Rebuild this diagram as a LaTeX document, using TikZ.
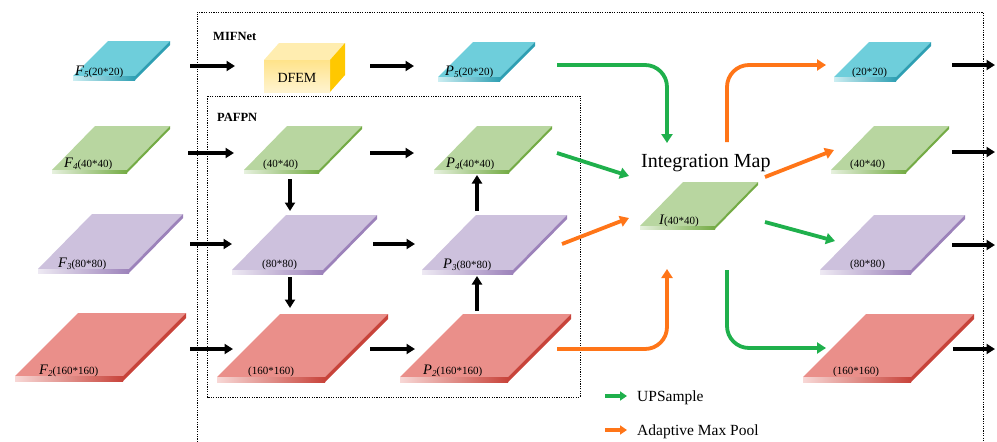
\documentclass[tikz,border=0pt]{standalone}
\usepackage{fontspec}
\setmainfont{Liberation Serif}
\usetikzlibrary{arrows.meta}

\definecolor{bluetop}{HTML}{6ECEDB}
\definecolor{blueside}{HTML}{2E9FB3}
\definecolor{greentop}{HTML}{B8D6A0}
\definecolor{greenside}{HTML}{74AB45}
\definecolor{purpletop}{HTML}{CDC1DD}
\definecolor{purpleside}{HTML}{9C82BA}
\definecolor{redtop}{HTML}{EA8F8A}
\definecolor{redside}{HTML}{C8433A}
\definecolor{upgreen}{HTML}{1FB04C}
\definecolor{poolorange}{HTML}{FF7518}
\definecolor{cubefront}{HTML}{FFE38A}
\definecolor{cubelight}{HTML}{FFF4D0}
\definecolor{cubetop}{HTML}{FFEDB0}
\definecolor{cubeside}{HTML}{FFC800}

\tikzset{
  flow/.style={line width=3.5pt, -{Triangle[length=8.5pt,width=10pt]}},
  upsample/.style={draw=upgreen, line width=3.8pt, rounded corners=22pt,
    -{Triangle[length=9pt,width=11pt]}},
  pool/.style={draw=poolorange, line width=3.8pt, rounded corners=22pt,
    -{Triangle[length=9pt,width=11pt]}},
  legendarrow/.style={line width=3.2pt, -{Triangle[length=7pt,width=9pt]}},
  frame/.style={line width=0.8pt, dash pattern=on 1.2pt off 1.2pt},
  dims/.style={font=\fontsize{11}{11}\selectfont, inner sep=0pt, anchor=base west},
  title/.style={font=\fontsize{12.5}{13}\selectfont\bfseries, inner sep=0pt, anchor=base west},
  legendtext/.style={font=\fontsize{15.5}{16}\selectfont, inner sep=0pt, anchor=base west},
}

% feature-map slab: name, x0, y0 (front-left corner of the top face), width, height, skew, thickness, top colour, edge colour
\newcommand{\slab}[9]{%
  \fill[#8] (#2,#3) -- ++(#4,0) -- ++(#6,-#5) -- ++(-#4,0) -- cycle;
  \shade[left color=#8!35!white, right color=#9] (#2,#3) rectangle ++(#4,#7);
  \fill[#9] ({#2+#4},#3) -- ++(#6,-#5) -- ++(0,#7) -- ++(-#6,#5) -- cycle;
  \coordinate (#1) at ({#2+(#4+#6)/2},{#3-#5/2});
}
\newcommand{\fmap}[2]{{\fontsize{14.5}{14}\selectfont\itshape #1}\raisebox{-2.5pt}{\fontsize{9}{9}\selectfont\itshape #2}}

\begin{document}
\begin{tikzpicture}[x=1pt,y=-1pt]
\useasboundingbox (0,0) rectangle (997,442);

% outer and inner network frames
\draw[frame] (197,442) -- (197,12) -- (983,12) -- (983,442);
\draw[frame] (207,96) rectangle (580,397);
\node[title] (mifnet) at (213,40) {MIFNet};
\node[title] (pafpn) at (217,121) {PAFPN};

% slabs: 20x20 level
\slab{F5}{73}{76}{62}{35}{35}{4}{bluetop}{blueside}
\slab{P5}{438}{77}{62}{35}{35}{4}{bluetop}{blueside}
\slab{R5}{834}{77}{62}{35}{35}{4}{bluetop}{blueside}
% 40x40 level
\slab{F4}{52}{170}{75}{44}{43}{3}{greentop}{greenside}
\slab{M4}{244}{170}{75}{44}{43}{3}{greentop}{greenside}
\slab{P4}{434}{170}{75}{44}{43}{3}{greentop}{greenside}
\slab{I}{640}{226}{75}{44}{43}{3}{greentop}{greenside}
\slab{R4}{831}{170}{75}{44}{43}{3}{greentop}{greenside}
% 80x80 level
\slab{F3}{38}{269}{91}{55}{54}{4}{purpletop}{purpleside}
\slab{M3}{232}{270}{91}{55}{54}{4}{purpletop}{purpleside}
\slab{P3}{422}{270}{91}{55}{54}{4}{purpletop}{purpleside}
\slab{R3}{820}{270}{91}{55}{54}{4}{purpletop}{purpleside}
% 160x160 level
\slab{F2}{15}{376}{108}{63}{63}{5}{redtop}{redside}
\slab{M2}{217}{377}{108}{63}{63}{5}{redtop}{redside}
\slab{P2}{400}{377}{108}{63}{63}{5}{redtop}{redside}
\slab{R2}{803}{377}{108}{63}{63}{5}{redtop}{redside}

% slab captions
\node[dims] (lF5) at (75,75) {\fmap{F}{5}(20*20)};
\node[dims] (lP5) at (445,75) {\fmap{P}{5}(20*20)};
\node[dims] (lR5) at (852,75) {(20*20)};
\node[dims] (lF4) at (64,167) {\fmap{F}{4}(40*40)};
\node[dims] (lM4) at (263,167) {(40*40)};
\node[dims] (lP4) at (446,167) {\fmap{P}{4}(40*40)};
\node[dims] (lI) at (659,224) {{\fontsize{14.5}{14}\selectfont\itshape I}(40*40)};
\node[dims] (lR4) at (850,167) {(40*40)};
\node[dims] (lF3) at (58,267) {\fmap{F}{3}(80*80)};
\node[dims] (lM3) at (262,267) {(80*80)};
\node[dims] (lP3) at (443,268) {\fmap{P}{3}(80*80)};
\node[dims] (lR3) at (850,267) {(80*80)};
\node[dims] (lF2) at (39,374) {\fmap{F}{2}(160*160)};
\node[dims] (lM2) at (248,374) {(160*160)};
\node[dims] (lP2) at (423,374) {\fmap{P}{2}(160*160)};
\node[dims] (lR2) at (833,374) {(160*160)};

% DFEM block
\fill[cubetop] (264,60) -- (330,60) -- (345,43) -- (279,43) -- cycle;
\fill[cubeside] (330,60) -- (345,43) -- (345,75) -- (330,92) -- cycle;
\shade[top color=cubefront, bottom color=cubelight] (264,60) rectangle (330,92);
\node[font=\fontsize{14}{14}\selectfont, inner sep=0pt] (dfem) at (297,78) {DFEM};

\node[font=\fontsize{20}{20}\selectfont, inner sep=0pt, anchor=base west] (imap) at (641,167) {Integration Map};

% arrow end points
\coordinate (a1s) at (190,66);  \coordinate (a1e) at (235,66);
\coordinate (a2s) at (370,66);  \coordinate (a2e) at (414,66);
\coordinate (a3s) at (952,65);  \coordinate (a3e) at (995,65);
\coordinate (b1s) at (188,153); \coordinate (b1e) at (234,153);
\coordinate (b2s) at (370,153); \coordinate (b2e) at (414,153);
\coordinate (b3s) at (952,152); \coordinate (b3e) at (995,152);
\coordinate (c1s) at (190,244); \coordinate (c1e) at (232,244);
\coordinate (c2s) at (373,244); \coordinate (c2e) at (415,244);
\coordinate (c3s) at (952,245); \coordinate (c3e) at (995,245);
\coordinate (d1s) at (190,349); \coordinate (d1e) at (233,349);
\coordinate (d2s) at (370,349); \coordinate (d2e) at (415,349);
\coordinate (d3s) at (953,349); \coordinate (d3e) at (995,349);
\coordinate (v1s) at (290,179); \coordinate (v1e) at (290,211);
\coordinate (v2s) at (290,277); \coordinate (v2e) at (290,308);
\coordinate (v3s) at (477,311); \coordinate (v3e) at (477,276);
\coordinate (v4s) at (477,211); \coordinate (v4e) at (477,175);

% black data-flow arrows
\foreach \s/\e in {a1s/a1e,a2s/a2e,a3s/a3e,b1s/b1e,b2s/b2e,b3s/b3e,
                   c1s/c1e,c2s/c2e,c3s/c3e,d1s/d1e,d2s/d2e,d3s/d3e,
                   v1s/v1e,v2s/v2e,v3s/v3e,v4s/v4e}
  \draw[flow] (\s) -- (\e);

% fusion into the integration map and redistribution
\coordinate (g1s) at (557,65);  \coordinate (g1e) at (667,143);
\coordinate (g2s) at (557,153); \coordinate (g2e) at (629,176);
\coordinate (o1s) at (562,244); \coordinate (o1e) at (629,218);
\coordinate (o2s) at (557,349); \coordinate (o2e) at (667,269);
\coordinate (o3s) at (727,142); \coordinate (o3e) at (826,65);
\coordinate (o4s) at (765,177); \coordinate (o4e) at (834,150);
\coordinate (g3s) at (765,222); \coordinate (g3e) at (835,241);
\coordinate (g4s) at (727,270); \coordinate (g4e) at (826,348);

\draw[upsample] (g1s) -| (g1e);
\draw[upsample] (g2s) -- (g2e);
\draw[pool] (o1s) -- (o1e);
\draw[pool] (o2s) -| (o2e);
\draw[pool] (o3s) |- (o3e);
\draw[pool] (o4s) -- (o4e);
\draw[upsample] (g3s) -- (g3e);
\draw[upsample] (g4s) |- (g4e);

% legend
\coordinate (lg1s) at (605,396); \coordinate (lg1e) at (627,396);
\coordinate (lg2s) at (605,430); \coordinate (lg2e) at (627,430);
\draw[legendarrow, upgreen] (lg1s) -- (lg1e);
\draw[legendarrow, poolorange] (lg2s) -- (lg2e);
\node[legendtext] (leg1) at (637,401) {UPSample};
\node[legendtext] (leg2) at (637,435) {Adaptive Max Pool};
\end{tikzpicture}
\end{document}
